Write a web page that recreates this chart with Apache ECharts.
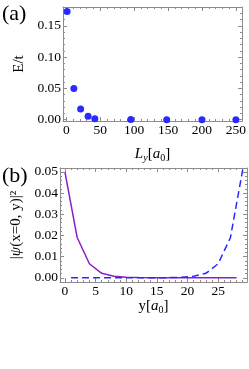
<!DOCTYPE html>
<html><head><meta charset="utf-8">
<script src="https://cdn.jsdelivr.net/npm/echarts@6/dist/echarts.min.js"></script>
<style>html,body{margin:0;padding:0;background:#fff}#c{width:249px;height:369px}</style>
</head><body><div id="c"></div>
<script>
// Panel (a)
var Ly = [1, 11, 21, 32, 42, 95, 148, 200, 250];
var E = [0.173, 0.050, 0.017, 0.0054, 0.0016, 0.0002, 0, 0, 0];
var aXTicks = [0, 50, 100, 150, 200, 250];
var aYTicks = [0, 0.05, 0.10, 0.15];
// Panel (b)
var yEven = [0, 2, 4, 6, 8, 10, 12, 14, 16, 18, 20, 22, 24, 26, 28];
var psiLeft = [0.050, 0.019, 0.0066, 0.0021, 0.0007, 0.0002, 0.00007, 0.00002, 0, 0, 0, 0, 0, 0, 0];
var yOdd = [1, 3, 5, 7, 9, 11, 13, 15, 17, 19, 21, 23, 25, 27, 29];
var psiRight = [0, 0, 0, 0, 0, 0, 0, 0.00002, 0.00007, 0.0002, 0.0007, 0.0021, 0.0066, 0.019, 0.051];
var bXTicks = [0, 5, 10, 15, 20, 25];
var bYTicks = [0, 0.01, 0.02, 0.03, 0.04, 0.05];

function range(a, b, s) { var r = []; for (var v = a; v <= b + 1e-9; v += s) r.push(+v.toFixed(6)); return r; }
var FRAME = '#8c8c8c';
var FONT = 'Liberation Serif';
var xAxes = [], yAxes = [];
function addAxes(list, grid, dim, min, max, majors, minors, fmt, name) {
  var posA = dim === 'x' ? 'bottom' : 'left';
  var posB = dim === 'x' ? 'top' : 'right';
  list.push({
    gridIndex: grid, type: 'value', position: posA, min: min, max: max,
    axisLine: { show: true, onZero: false, lineStyle: { color: FRAME, width: 1 } },
    axisTick: { show: true, inside: true, length: 4, customValues: majors, lineStyle: { color: FRAME } },
    axisLabel: { show: true, customValues: majors, formatter: fmt, color: '#000', fontFamily: FONT, fontSize: 13.5, margin: 2 },
    splitLine: { show: false },
    name: name ? name.text : '', nameLocation: 'middle', nameGap: name ? name.gap : 0,
    nameRotate: dim === 'y' ? 90 : 0,
    nameTextStyle: name ? name.style : {}
  });
  list.push({
    gridIndex: grid, type: 'value', position: posA, min: min, max: max,
    axisLine: { show: false, onZero: false },
    axisTick: { show: true, inside: true, length: 2, customValues: minors, lineStyle: { color: FRAME } },
    axisLabel: { show: false }, splitLine: { show: false }
  });
  list.push({
    gridIndex: grid, type: 'value', position: posB, min: min, max: max,
    axisLine: { show: true, onZero: false, lineStyle: { color: FRAME, width: 1 } },
    axisTick: { show: true, inside: true, length: 4, customValues: majors, lineStyle: { color: FRAME } },
    axisLabel: { show: false }, splitLine: { show: false }
  });
  list.push({
    gridIndex: grid, type: 'value', position: posB, min: min, max: max,
    axisLine: { show: false, onZero: false },
    axisTick: { show: true, inside: true, length: 2, customValues: minors, lineStyle: { color: FRAME } },
    axisLabel: { show: false }, splitLine: { show: false }
  });
}
var f2 = function (v) { return v.toFixed(2); };
var f0 = function (v) { return String(Math.round(v)); };
var nameStyle = function () {
  return { color: '#000', fontFamily: FONT, fontSize: 15,
    rich: {
      i: { fontFamily: FONT, fontStyle: 'italic', fontSize: 15, color: '#000' },
      n: { fontFamily: FONT, fontSize: 15, color: '#000' },
      sub: { fontFamily: FONT, fontSize: 10, color: '#000', padding: [7, 0, 0, 0] },
      isub: { fontFamily: FONT, fontStyle: 'italic', fontSize: 10, color: '#000', padding: [7, 0, 0, 0] }
    } };
};
addAxes(xAxes, 0, 'x', -5, 259, aXTicks, range(10, 250, 10), f0,
  { text: '{i|L}{isub|y}{n|[}{i|a}{sub|0}{n|]}', gap: 25, style: nameStyle() });
addAxes(yAxes, 0, 'y', -0.002, 0.18, aYTicks, range(0.01, 0.17, 0.01), f2,
  { text: 'E/t', gap: 26, style: nameStyle() });
addAxes(xAxes, 1, 'x', -0.8, 29.7, bXTicks, range(1, 29, 1), f0,
  { text: '{n|y[}{i|a}{sub|0}{n|]}', gap: 15, style: nameStyle() });
addAxes(yAxes, 1, 'y', -0.002, 0.0518, bYTicks, range(0.002, 0.05, 0.002), f2,
  { text: '{n||}{i|ψ}{n|(x=0, y)|²}', gap: 25, style: nameStyle() });

function pairs(xs, ys) { return xs.map(function (x, i) { return [x, ys[i]]; }); }

var chart = echarts.init(document.getElementById('c'), null, { renderer: 'canvas' });
chart.setOption({
  animation: false,
  backgroundColor: '#fff',
  grid: [
    { left: 63, right: 2, top: 7, height: 114 },
    { left: 60, right: 2, top: 168, height: 114 }
  ],
  xAxis: xAxes,
  yAxis: yAxes,
  graphic: [
    { type: 'text', left: 2, top: 3, style: { text: '(a)', font: '22px "Liberation Serif"', fill: '#000' } },
    { type: 'text', left: 2, top: 165, style: { text: '(b)', font: '22px "Liberation Serif"', fill: '#000' } }
  ],
  series: [
    { type: 'scatter', xAxisIndex: 0, yAxisIndex: 0, data: pairs(Ly, E), symbolSize: 7, clip: false,
      itemStyle: { color: '#2a2aff', opacity: 1 } },
    { type: 'line', xAxisIndex: 4, yAxisIndex: 4, data: pairs(yEven, psiLeft), showSymbol: false,
      lineStyle: { color: '#8a20c8', width: 1.5 } },
    { type: 'line', xAxisIndex: 4, yAxisIndex: 4, data: pairs(yOdd, psiRight), showSymbol: false, clip: false,
      lineStyle: { color: '#2a2aff', width: 1.5, type: [7, 4] } }
  ]
});
</script></body></html>
